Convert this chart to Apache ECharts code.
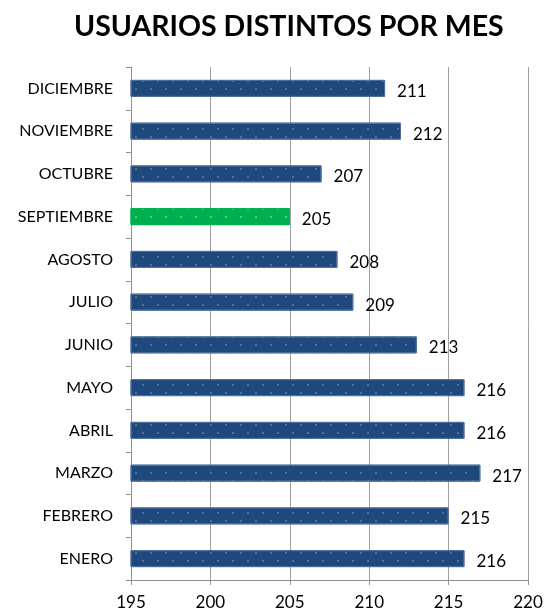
<!DOCTYPE html>
<html>
<head>
<meta charset="utf-8">
<script src="https://cdn.jsdelivr.net/npm/echarts@6/dist/echarts.min.js"></script>
<style>
  html, body { margin: 0; padding: 0; background: #fff; }
  #chart { width: 554px; height: 615px; }
</style>
</head>
<body>
<div id="chart"></div>
<script>
var meses = ["ENERO", "FEBRERO", "MARZO", "ABRIL", "MAYO", "JUNIO", "JULIO", "AGOSTO", "SEPTIEMBRE", "OCTUBRE", "NOVIEMBRE", "DICIEMBRE"];
var usuarios = [216, 215, 217, 216, 216, 213, 209, 208, 205, 207, 212, 211];
var destacado = "SEPTIEMBRE";

var fuente = "Lato, 'Open Sans', sans-serif";
var myChart = echarts.init(document.getElementById("chart"));

var datos = usuarios.map(function (v, i) {
  var verde = meses[i] === destacado;
  return {
    value: v,
    itemStyle: {
      color: verde ? "#00b050" : "#1f497d",
      borderColor: verde ? "#00b050" : "#4f6f9c",
      borderWidth: 1,
      decal: {
        symbol: "circle",
        symbolSize: 1,
        dashArrayX: [[2, 13], [0, 7, 2, 6]],
        dashArrayY: [2, 6],
        color: verde ? "rgba(200,240,120,0.6)" : "rgba(160,190,230,0.45)"
      }
    }
  };
});

var option = {
  animation: false,
  title: {
    text: "USUARIOS DISTINTOS POR MES",
    left: 69,
    top: 7,
    textStyle: { fontFamily: fuente, fontSize: 28.5, fontWeight: "bold", color: "#000" }
  },
  grid: { left: 131, right: 26, top: 67, bottom: 35 },
  xAxis: {
    type: "value",
    min: 195,
    max: 220,
    interval: 5,
    axisLine: { show: true, lineStyle: { color: "#909090" } },
    axisTick: { show: true, length: 5, lineStyle: { color: "#909090" } },
    axisLabel: { fontFamily: fuente, fontSize: 17, color: "#000", margin: 14 },
    splitLine: { show: true, lineStyle: { color: "#a0a0a0", width: 1 } }
  },
  yAxis: {
    type: "category",
    data: meses,
    axisLine: { show: true, lineStyle: { color: "#909090" } },
    axisTick: { show: true, length: 5, lineStyle: { color: "#909090" } },
    axisLabel: { fontFamily: fuente, fontSize: 16, color: "#000", margin: 18 }
  },
  series: [
    {
      type: "bar",
      data: datos,
      barWidth: 17,
      label: {
        show: true,
        position: "right",
        distance: 12,
        offset: [0, 3],
        fontFamily: fuente,
        fontSize: 17,
        color: "#000"
      }
    }
  ]
};
myChart.setOption(option);
</script>
</body>
</html>
